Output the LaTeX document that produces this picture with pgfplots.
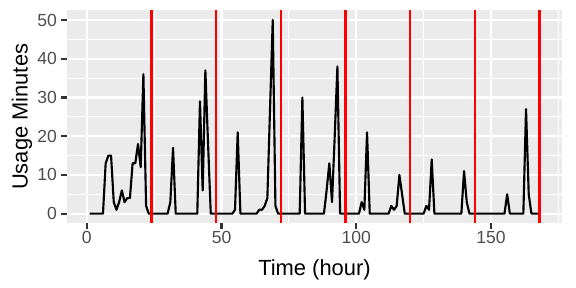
\documentclass[border=0pt]{standalone}
\usepackage{pgfplots}
\pgfplotsset{compat=1.18}
\usepackage{fontspec}
\setmainfont{Liberation Sans}
\definecolor{panelbg}{HTML}{EBEBEB}
\definecolor{grey30}{HTML}{4D4D4D}
\definecolor{grey20}{HTML}{333333}
\begin{document}
\begin{tikzpicture}
\begin{axis}[
 name=ax,
 scale only axis,
 width=371.25bp, height=159.8bp,
 xmin=-7.35, xmax=176.35, ymin=-2.5, ymax=52.5,
 axis background/.style={fill=panelbg},
 axis line style={draw=none},
 xtick={0,50,100,150}, ytick={0,10,20,30,40,50},
 minor xtick={25,75,125,175}, minor ytick={5,15,25,35,45},
 grid=both,
 major grid style={white, line width=1.6bp},
 minor grid style={white, line width=0.8bp},
 tick align=outside, tick pos=left,
 major tick length=4.125bp, minor tick length=0pt,
 tick style={grey20, line width=1.6bp},
 ticklabel style={font=\fontsize{13.2}{15}\selectfont, text=grey30},
 /pgf/number format/assume math mode=true,
 xticklabel style={anchor=base, yshift=-11pt},
 yticklabel style={anchor=east},
 xlabel={Time (hour)}, ylabel={Usage Minutes},
 label style={font=\fontsize{16.5}{19}\selectfont},
 xlabel style={at={(axis description cs:0.5,0)}, anchor=base, yshift=-39.3bp},
 ylabel style={at={(axis description cs:0,0.5)}, anchor=base, yshift=29.6bp},
]
\addplot[black, line width=1.6bp, line join=round] coordinates {
(1,0)(2,0)(3,0)(4,0)(5,0)(6,0)(7,13)(8,15)(9,15)(10,3)
(11,1)(12,3)(13,6)(14,3)(15,4)(16,4)(17,13)(18,13)(19,18)(20,12)
(21,36)(22,2)(23,0)(24,0)(25,0)(26,0)(27,0)(28,0)(29,0)(30,0)
(31,3)(32,17)(33,0)(34,0)(35,0)(36,0)(37,0)(38,0)(39,0)(40,0)
(41,0)(42,29)(43,6)(44,37)(45,18)(46,0)(47,0)(48,0)(49,0)(50,0)
(51,0)(52,0)(53,0)(54,0)(55,1)(56,21)(57,0)(58,0)(59,0)(60,0)
(61,0)(62,0)(63,0)(64,1)(65,1)(66,2)(67,4)(68,27)(69,50)(70,2)
(71,0)(72,0)(73,0)(74,0)(75,0)(76,0)(77,0)(78,0)(79,0)(80,30)
(81,0)(82,0)(83,0)(84,0)(85,0)(86,0)(87,0)(88,0)(89,6)(90,13)
(91,3)(92,20)(93,38)(94,0)(95,0)(96,0)(97,0)(98,0)(99,0)(100,0)
(101,0)(102,3)(103,1)(104,21)(105,0)(106,0)(107,0)(108,0)(109,0)(110,0)
(111,0)(112,0)(113,2)(114,1)(115,2)(116,10)(117,5)(118,0)(119,0)(120,0)
(121,0)(122,0)(123,0)(124,0)(125,0)(126,2)(127,1)(128,14)(129,0)(130,0)
(131,0)(132,0)(133,0)(134,0)(135,0)(136,0)(137,0)(138,0)(139,0)(140,11)
(141,3)(142,0)(143,0)(144,0)(145,0)(146,0)(147,0)(148,0)(149,0)(150,0)
(151,0)(152,0)(153,0)(154,0)(155,0)(156,5)(157,0)(158,0)(159,0)(160,0)
(161,0)(162,0)(163,27)(164,5)(165,0)(166,0)(167,0)(168,0)
};
\addplot[red, line width=1.6bp] coordinates {(24,-2.5)(24,52.5)};
\addplot[red, line width=1.6bp] coordinates {(48,-2.5)(48,52.5)};
\addplot[red, line width=1.6bp] coordinates {(72,-2.5)(72,52.5)};
\addplot[red, line width=1.6bp] coordinates {(96,-2.5)(96,52.5)};
\addplot[red, line width=1.6bp] coordinates {(120,-2.5)(120,52.5)};
\addplot[red, line width=1.6bp] coordinates {(144,-2.5)(144,52.5)};
\addplot[red, line width=1.6bp] coordinates {(168,-2.5)(168,52.5)};
\end{axis}
\pgfresetboundingbox
\path[use as bounding box] ([xshift=-50.25bp,yshift=-48.45bp]ax.south west) rectangle ([xshift=10.5bp,yshift=7.725bp]ax.north east);
\end{tikzpicture}
\end{document}
